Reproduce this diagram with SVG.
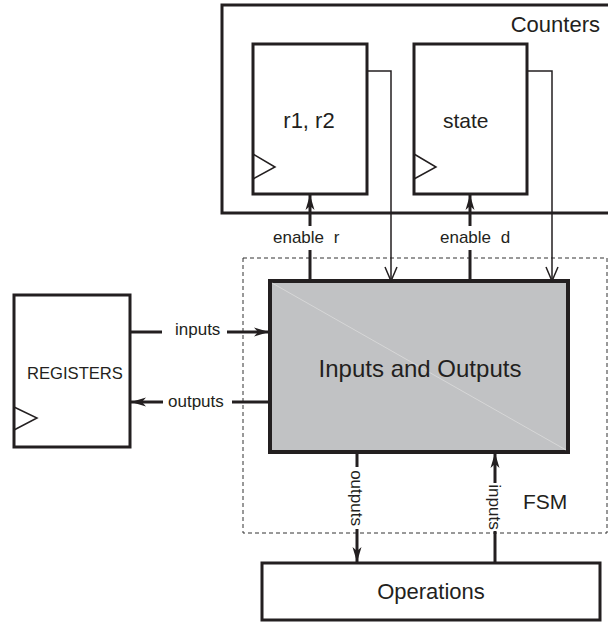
<svg xmlns="http://www.w3.org/2000/svg" width="608" height="622" viewBox="0 0 608 622">
  <defs>
    <style>
      .box { fill: #ffffff; stroke: #231f20; stroke-width: 3; }
      .core { fill: #c1c2c4; stroke: #231f20; stroke-width: 4; }
      .fsm { fill: none; stroke: #333333; stroke-width: 1; stroke-dasharray: 4 3; }
      .clk { fill: none; stroke: #231f20; stroke-width: 1.5; }
      .bus { fill: none; stroke: #231f20; stroke-width: 3; }
      .wire { fill: none; stroke: #231f20; stroke-width: 1.5; }
      .label { font-family: "Liberation Sans", Arial, sans-serif; fill: #231f20; }
    </style>
    <marker id="head" viewBox="0 0 16 10" refX="15" refY="5" markerWidth="16" markerHeight="10" markerUnits="userSpaceOnUse" orient="auto">
      <path d="M15,5 L0,0.5 L4,5 L0,9.5 Z" fill="#231f20"/>
    </marker>
    <marker id="vee" viewBox="0 0 16 14" refX="15" refY="7" markerWidth="16" markerHeight="14" markerUnits="userSpaceOnUse" orient="auto">
      <path d="M1,1 L15,7 L1,13" fill="none" stroke="#231f20" stroke-width="1.5"/>
    </marker>
  </defs>

  <!-- FSM boundary -->
  <g id="fsm">
    <rect class="fsm" x="243" y="258" width="364" height="275"/>
    <text class="label" x="523" y="509" font-size="21">FSM</text>
  </g>

  <!-- Counters block -->
  <g id="counters">
    <rect class="box" x="222" y="5" width="392" height="208"/>
    <text class="label" x="600" y="32" font-size="22" text-anchor="end">Counters</text>
  </g>

  <g id="r1r2">
    <rect class="box" x="253" y="44" width="114" height="150"/>
    <polyline class="clk" points="253,154 275,167 253,179"/>
    <text class="label" x="309" y="128" font-size="22" text-anchor="middle">r1, r2</text>
  </g>

  <g id="state">
    <rect class="box" x="414" y="44" width="113" height="150"/>
    <polyline class="clk" points="414,154 436,167 414,179"/>
    <text class="label" x="443" y="128" font-size="21">state</text>
  </g>

  <!-- Core block -->
  <g id="io">
    <rect class="core" x="270" y="281" width="298" height="171"/>
    <line x1="272" y1="283" x2="566" y2="450" stroke="#dcdcdc" stroke-width="0.8"/>
    <text class="label" x="420" y="377" font-size="24" text-anchor="middle">Inputs and Outputs</text>
  </g>

  <g id="registers">
    <rect class="box" x="14" y="295" width="116" height="152"/>
    <polyline class="clk" points="14,407 37,418 14,430"/>
    <text class="label" x="27" y="379" font-size="16.6">REGISTERS</text>
  </g>

  <g id="operations">
    <rect class="box" x="262" y="563" width="338" height="57"/>
    <text class="label" x="431" y="599" font-size="22" text-anchor="middle">Operations</text>
  </g>

  <!-- Connectors -->
  <g id="connectors">
    <!-- enables to the counters -->
    <line class="bus" x1="310" y1="281" x2="310" y2="250"/>
    <line class="bus" x1="310" y1="226" x2="310" y2="195" marker-end="url(#head)"/>
    <line class="bus" x1="470" y1="281" x2="470" y2="250"/>
    <line class="bus" x1="470" y1="226" x2="470" y2="195" marker-end="url(#head)"/>
    <text class="label" x="273" y="243" font-size="17" word-spacing="5">enable r</text>
    <text class="label" x="440" y="243" font-size="17" word-spacing="5">enable d</text>

    <!-- counter values fed back -->
    <polyline class="wire" points="367,71 391,71 391,281" marker-end="url(#vee)"/>
    <polyline class="wire" points="527,71 552,71 552,281" marker-end="url(#vee)"/>

    <!-- registers link -->
    <line class="bus" x1="130" y1="332" x2="162" y2="332"/>
    <line class="bus" x1="227" y1="332" x2="269" y2="332" marker-end="url(#head)"/>
    <text class="label" x="175" y="335" font-size="17">inputs</text>
    <line class="bus" x1="268" y1="402" x2="232" y2="402"/>
    <line class="bus" x1="163" y1="402" x2="131" y2="402" marker-end="url(#head)"/>
    <text class="label" x="168" y="407" font-size="17">outputs</text>

    <!-- operations link -->
    <line class="bus" x1="357" y1="452" x2="357" y2="467"/>
    <line class="bus" x1="357" y1="529" x2="357" y2="562" marker-end="url(#head)"/>
    <text class="label" transform="translate(351,498) rotate(90)" font-size="17" text-anchor="middle">outputs</text>
    <line class="bus" x1="495" y1="563" x2="495" y2="531"/>
    <line class="bus" x1="495" y1="483" x2="495" y2="453" marker-end="url(#head)"/>
    <text class="label" transform="translate(489,507) rotate(90)" font-size="17" text-anchor="middle">inputs</text>
  </g>
</svg>
